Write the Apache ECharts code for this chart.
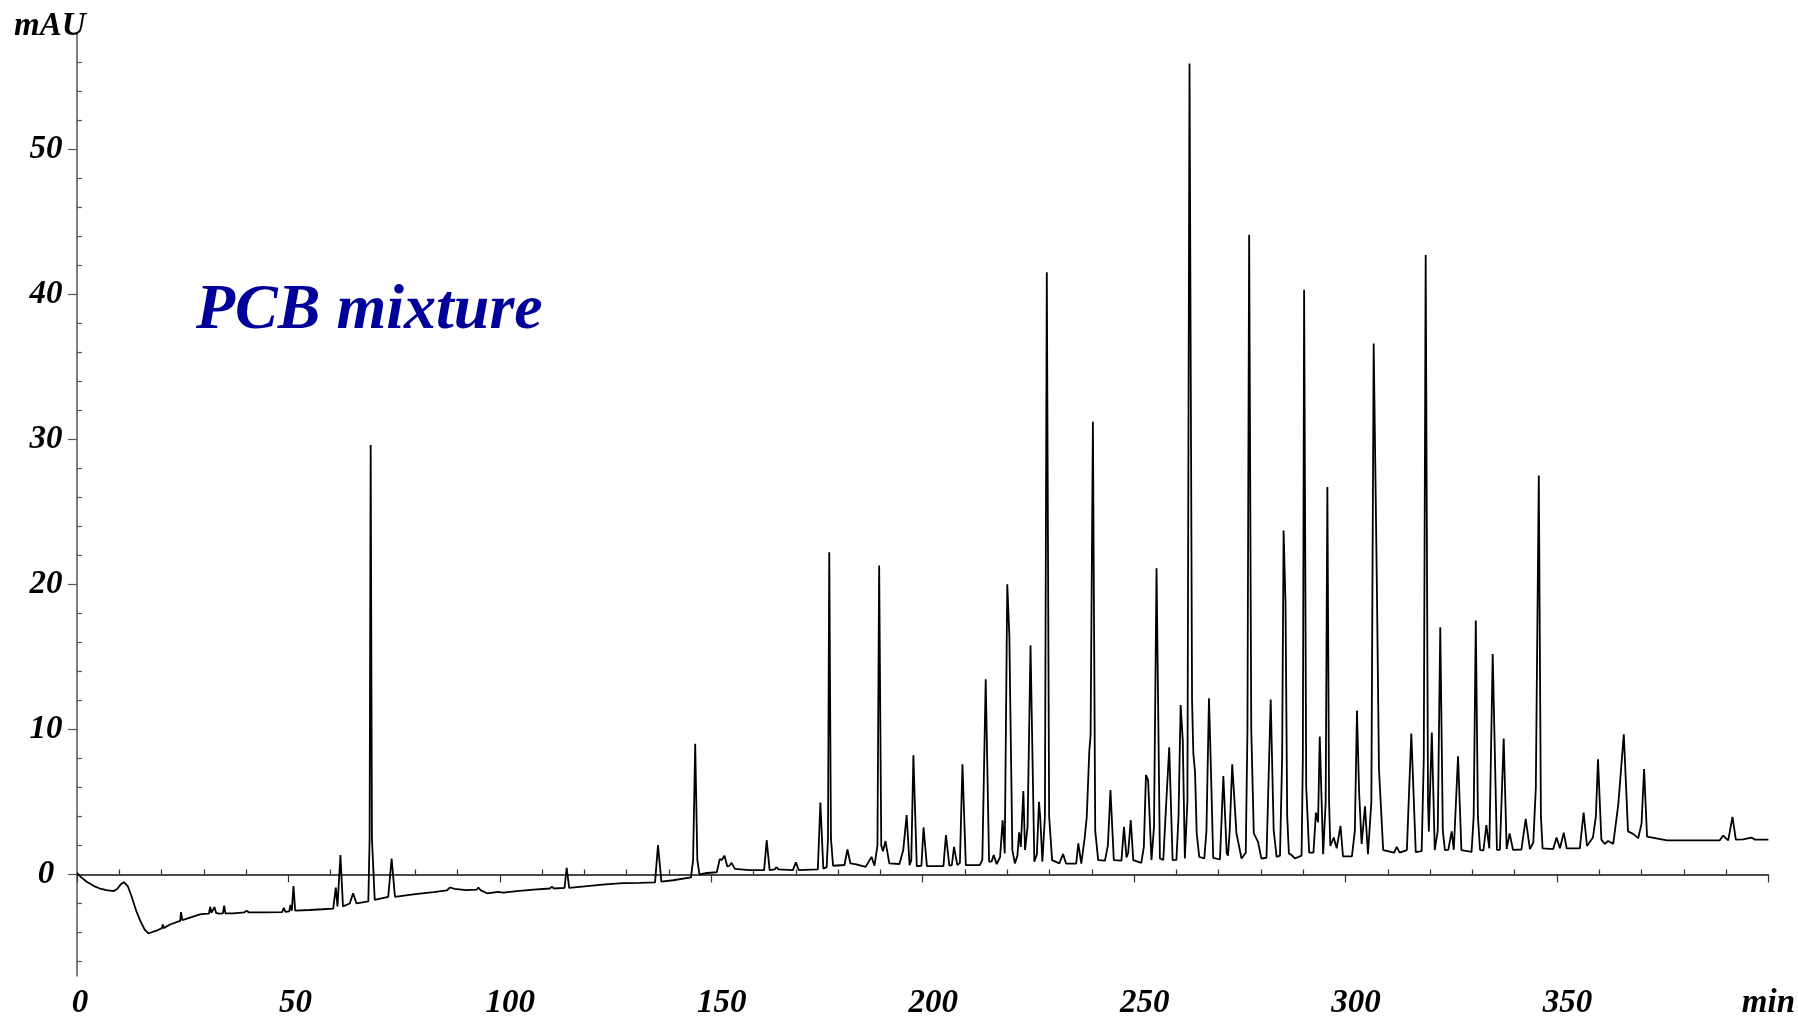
<!DOCTYPE html>
<html>
<head>
<meta charset="utf-8">
<title>PCB mixture chromatogram</title>
<script src="https://cdn.jsdelivr.net/npm/echarts@6/dist/echarts.min.js"></script>
<style>
  html, body { margin: 0; padding: 0; background: #ffffff; }
  #chart { width: 1798px; height: 1020px; }
</style>
</head>
<body>
<div id="chart"></div>
<script>
// Chromatogram trace, [retention time (min), absorbance (mAU)], split by time window.
const traceEarly = [
  [0, 0.1], [1, -0.2], [2.3, -0.5], [4, -0.8], [5.4, -0.97], [7, -1.08], [8.6, -1.15],
  [9.5, -1.0], [10.3, -0.7], [11.1, -0.53], [12, -0.8], [12.9, -1.5], [14, -2.5],
  [14.9, -3.15], [16, -3.8], [16.9, -4.07], [17.5, -4.0], [19, -3.85], [20.1, -3.7],
  [20.3, -3.45], [20.5, -3.7], [22, -3.45], [24.4, -3.2], [24.6, -2.6], [24.9, -3.15],
  [26, -3.05], [28, -2.85], [29.1, -2.75], [30, -2.72], [31.2, -2.7], [31.5, -2.23],
  [31.8, -2.65], [32.2, -2.6], [32.5, -2.25], [32.9, -2.65], [33.5, -2.7], [34.5, -2.68],
  [34.8, -2.15], [35.1, -2.68], [37, -2.68], [39.5, -2.62], [40.1, -2.5], [40.7, -2.62],
  [44, -2.62], [48.5, -2.6], [48.9, -2.3], [49.3, -2.58], [50.2, -2.55], [50.5, -2.1],
  [50.8, -2.5], [51.2, -0.8], [51.6, -2.5], [55, -2.45], [58, -2.4], [60.6, -2.35],
  [61.2, -0.9], [61.6, -2.2], [62.3, 1.33], [62.9, -2.2], [64.5, -2.0], [65.3, -1.3],
  [66.1, -2.0], [68.9, -1.85], [69.2, 2.5], [69.45, 29.6], [69.75, 2.5], [70.4, -1.75],
  [72, -1.65], [73.6, -1.55], [74.4, 1.1], [75.2, -1.55], [80, -1.35], [84.3, -1.22],
  [87.5, -1.1], [88.2, -0.9], [88.8, -0.95], [89.3, -1.0], [92, -1.08], [94.5, -1.05],
  [94.9, -0.9], [95.5, -1.1], [97, -1.3], [99.6, -1.2], [100, -1.1], [100.8, -1.25]
];

const traceMiddle = [
  [104, -1.15], [108, -1.05], [111.8, -0.97], [112.3, -0.85], [112.8, -0.97],
  [115.3, -0.92], [115.8, 0.46], [116.4, -0.92], [120, -0.82], [125, -0.68], [129, -0.6],
  [129.3, -0.5], [129.7, -0.6], [133, -0.58], [136.7, -0.55], [137.4, 2.02], [138.2, -0.5],
  [141, -0.4], [145.2, -0.2], [145.7, 1.0], [146.2, 9.0], [146.7, 1.0], [147.2, 0.0],
  [149, 0.1], [151.3, 0.15], [152.0, 1.05], [152.5, 1.0], [153.1, 1.3], [153.8, 0.55],
  [154.3, 0.6], [154.8, 0.8], [155.6, 0.38], [159, 0.3], [162.5, 0.3], [163.1, 2.36],
  [163.8, 0.3], [165, 0.35], [165.4, 0.5], [165.9, 0.35], [169.3, 0.3], [170.0, 0.83],
  [170.7, 0.3], [175.2, 0.35], [175.8, 4.96], [176.5, 0.4], [177.3, 0.5], [177.6, 2.5],
  [177.9, 22.2], [178.3, 2.5], [178.8, 0.6], [181.5, 0.65], [182.2, 1.72], [182.9, 0.76],
  [184.3, 0.7], [186.5, 0.52], [187.9, 1.21], [188.6, 0.6], [189.3, 2.0], [189.7, 21.3],
  [190.2, 2.0], [190.6, 1.6], [191.2, 2.3], [192.1, 0.76], [194.5, 0.72], [195.4, 1.68],
  [196.2, 4.09], [196.9, 0.64], [197.3, 1.0], [197.8, 8.22], [198.6, 0.57], [199.7, 0.6],
  [200.2, 3.24], [201, 0.57]
];

const traceDense = [
  [204.9, 0.57], [205.5, 2.71], [206.3, 0.6], [206.9, 0.65], [207.4, 1.9], [208.2, 0.64],
  [208.8, 0.8], [209.4, 7.6], [210.2, 0.64], [213.5, 0.64], [214.1, 1.0], [214.9, 13.45],
  [215.7, 0.87], [216.3, 0.9], [216.8, 1.33], [217.5, 0.71], [218.3, 1.2], [218.9, 3.74],
  [219.4, 1.45], [220.0, 20.0], [220.5, 16.4], [220.7, 12.0], [221.2, 1.68], [221.8, 0.76],
  [222.4, 1.3], [222.8, 2.9], [223.2, 1.9], [223.8, 5.75], [224.2, 1.68], [224.8, 3.28],
  [225.5, 15.8], [226.4, 0.87], [227.0, 1.4], [227.5, 5.0], [227.8, 3.9], [228.3, 0.87],
  [228.9, 4.0], [229.35, 41.5], [229.9, 4.0], [230.6, 0.99], [232.3, 0.76], [233.2, 1.4],
  [233.9, 0.75], [236.3, 0.75], [236.8, 2.14], [237.5, 0.75], [238.3, 2.5], [238.8, 3.97],
  [239.4, 8.5], [239.7, 9.6], [240.25, 31.2], [240.8, 3.0], [241.5, 0.99], [243.1, 0.95],
  [243.8, 2.0], [244.4, 5.81], [245.2, 0.99], [247.0, 0.95], [247.6, 3.28], [248.2, 1.17],
  [248.6, 1.5], [249.2, 3.74], [249.8, 0.99], [251.7, 0.8], [252.3, 1.9], [252.8, 6.85],
  [253.3, 6.5], [254.1, 0.99], [254.7, 3.28], [255.3, 21.1], [256.1, 1.1], [256.9, 1.0],
  [257.5, 4.43], [258.3, 8.76], [259.1, 0.99], [260.0, 1.0], [260.5, 4.0], [261.0, 11.67],
  [261.5, 9.26], [262.0, 1.1], [262.6, 5.0], [263.1, 55.9], [263.7, 12.0], [264.0, 8.34],
  [264.4, 7.07], [264.8, 2.83], [265.4, 1.21], [266.6, 1.1], [267.1, 3.0], [267.7, 12.15],
  [268.0, 9.0], [268.7, 1.15], [270.3, 1.03], [271.1, 6.78], [271.9, 1.45], [272.2, 1.3],
  [272.6, 3.0], [273.2, 7.6], [274.2, 2.83], [275.4, 1.1], [276.4, 1.5], [276.8, 10.0],
  [277.2, 44.1], [277.7, 10.0], [278.3, 2.83], [279.3, 2.25], [280.1, 1.1], [281.3, 1.15],
  [282.3, 12.06], [283.0, 3.05], [283.7, 1.21], [284.5, 1.3], [285.0, 8.0], [285.35, 23.7],
  [285.8, 18.7], [286.2, 4.0], [286.6, 1.45], [287.2, 1.35], [288.0, 1.1], [289.6, 1.3],
  [289.9, 8.0], [290.2, 40.3], [290.7, 6.0], [291.4, 1.5], [292.4, 1.5], [293.0, 4.26],
  [293.5, 3.6], [293.9, 9.5], [294.7, 1.39], [295.3, 5.0], [295.7, 26.7], [296.1, 5.0],
  [296.4, 1.96], [297.2, 2.54], [297.9, 1.8], [298.8, 3.35], [299.4, 1.24]
];

const traceLate = [
  [301.5, 1.24], [302.2, 3.0], [302.7, 11.3], [303.2, 5.7], [303.8, 2.1], [304.6, 4.69],
  [305.3, 1.39], [306.1, 5.0], [306.65, 36.6], [307.4, 20.1], [307.9, 7.27], [308.9, 1.68],
  [311.5, 1.5], [312.1, 1.9], [312.8, 1.5], [314.5, 1.68], [315.55, 9.72], [316.6, 1.54],
  [318.0, 1.6], [318.5, 8.0], [318.95, 42.7], [319.5, 5.0], [319.7, 2.97], [320.4, 9.78],
  [321.1, 1.68], [321.8, 3.0], [322.4, 17.04], [323.0, 3.0], [323.5, 1.68], [324.3, 1.7],
  [325.1, 2.97], [325.6, 1.7], [326.6, 8.14], [327.4, 1.68], [329.8, 1.55], [330.3, 4.0],
  [330.8, 17.5], [331.3, 4.0], [331.8, 1.7], [332.6, 1.65], [333.3, 3.4], [334.0, 1.8],
  [334.8, 15.2], [335.8, 1.7], [336.5, 1.7], [337.4, 9.37], [338.1, 1.75], [338.8, 2.83],
  [339.6, 1.7], [341.6, 1.72], [342.6, 3.83], [343.6, 1.75], [344.4, 2.2], [345.0, 6.0],
  [345.7, 27.5], [346.2, 4.0], [346.6, 1.8], [349.1, 1.75], [349.9, 2.54], [350.7, 1.8],
  [351.6, 2.88], [352.3, 1.8], [355.4, 1.8], [356.3, 4.26], [357.1, 1.96], [358.5, 2.54],
  [359.2, 4.0], [359.7, 7.94], [360.5, 2.4], [361.3, 2.1], [362.1, 2.31], [363.3, 2.1],
  [364.5, 4.83], [365.8, 9.66], [366.8, 2.97], [368.0, 2.8], [369.2, 2.5], [370.0, 3.5],
  [370.6, 7.27], [371.3, 2.6], [376, 2.35], [382, 2.35], [388.5, 2.35], [389.3, 2.68],
  [390.5, 2.35], [391.5, 3.97], [392.3, 2.4], [394, 2.42], [396, 2.54], [396.8, 2.4],
  [400, 2.4]
];

// Axis ticks and labels
const xLabelValues = [0, 50, 100, 150, 200, 250, 300, 350, 400];
const xMinorTicks = [10, 20, 30, 40, 60, 70, 80, 90, 110, 120, 130, 140, 160, 170, 180, 190,
  210, 220, 230, 240, 260, 270, 280, 290, 310, 320, 330, 340, 360, 370, 380, 390];
const yLabelValues = [0, 10, 20, 30, 40, 50];
const yMinorTicks = [-6, -4, -2, 2, 4, 6, 8, 12, 14, 16, 18, 22, 24, 26, 28, 32, 34, 36, 38,
  42, 44, 46, 48, 52, 54, 56];
const xUnit = 'min';
const yUnit = 'mAU';
const sampleName = 'PCB mixture';

const trace = traceEarly.concat(traceMiddle, traceDense, traceLate);

const serifBoldItalic = {
  fontFamily: '"Liberation Serif", "Times New Roman", serif',
  fontWeight: 'bold',
  fontStyle: 'italic'
};
const tickFont = Object.assign({ fontSize: 33, color: '#000000' }, serifBoldItalic);

// x labels sit a little right of their ticks, more so for longer numbers
const xLabelRich = {
  d1: Object.assign({ padding: [0, 0, 0, 6] }, tickFont),
  d2: Object.assign({ padding: [0, 0, 0, 14] }, tickFont),
  d3: Object.assign({ padding: [0, 0, 0, 21] }, tickFont),
  unit: Object.assign({ padding: [0, 0, 0, 0] }, tickFont)
};
function xLabelFormatter(v) {
  if (v === 400) return '{unit|' + xUnit + '}';
  const s = String(v);
  return '{d' + s.length + '|' + s + '}';
}

const chart = echarts.init(document.getElementById('chart'), null, { renderer: 'canvas' });

chart.setOption({
  animation: false,
  backgroundColor: '#ffffff',
  title: [
    {
      text: sampleName,
      left: 191,
      top: 274,
      textStyle: Object.assign({ fontSize: 64, color: '#000099' }, serifBoldItalic)
    },
    {
      text: yUnit,
      left: 9,
      top: 5,
      textStyle: Object.assign({ fontSize: 33, color: '#000000' }, serifBoldItalic)
    }
  ],
  grid: { left: 77, right: 29, top: 33, bottom: 44, containLabel: false },
  xAxis: [
    {
      type: 'value',
      min: 0,
      max: 400,
      axisLine: { show: true, lineStyle: { color: '#111111', width: 1.5 } },
      axisTick: {
        show: true, inside: false, length: 8,
        customValues: xLabelValues,
        lineStyle: { color: '#333333', width: 1.2 }
      },
      axisLabel: Object.assign({
        show: true,
        customValues: xLabelValues,
        formatter: xLabelFormatter,
        rich: xLabelRich,
        margin: 11
      }, tickFont),
      splitLine: { show: false }
    },
    {
      type: 'value',
      min: 0,
      max: 400,
      axisLine: { show: false },
      axisTick: {
        show: true, inside: false, length: 5,
        customValues: xMinorTicks,
        lineStyle: { color: '#333333', width: 1.2 }
      },
      axisLabel: { show: false },
      splitLine: { show: false }
    }
  ],
  yAxis: [
    {
      type: 'value',
      min: -7,
      max: 58,
      axisLine: { show: true, lineStyle: { color: '#555555', width: 1.5 } },
      axisTick: {
        show: true, inside: false, length: 9,
        customValues: yLabelValues,
        lineStyle: { color: '#555555', width: 1.2 }
      },
      axisLabel: Object.assign({
        show: true,
        customValues: yLabelValues,
        align: 'center',
        margin: 31,
        padding: [0, 0, 6, 0]
      }, tickFont),
      splitLine: { show: false }
    },
    {
      type: 'value',
      min: -7,
      max: 58,
      axisLine: { show: false },
      axisTick: {
        show: true, inside: false, length: 5,
        customValues: yMinorTicks,
        lineStyle: { color: '#555555', width: 1.2 }
      },
      axisLabel: { show: false },
      splitLine: { show: false }
    }
  ],
  series: [
    {
      name: sampleName,
      type: 'line',
      xAxisIndex: 0,
      yAxisIndex: 0,
      data: trace,
      showSymbol: false,
      symbol: 'none',
      smooth: false,
      lineStyle: { color: '#000000', width: 1.8 },
      emphasis: { disabled: true }
    }
  ]
});
</script>
</body>
</html>
